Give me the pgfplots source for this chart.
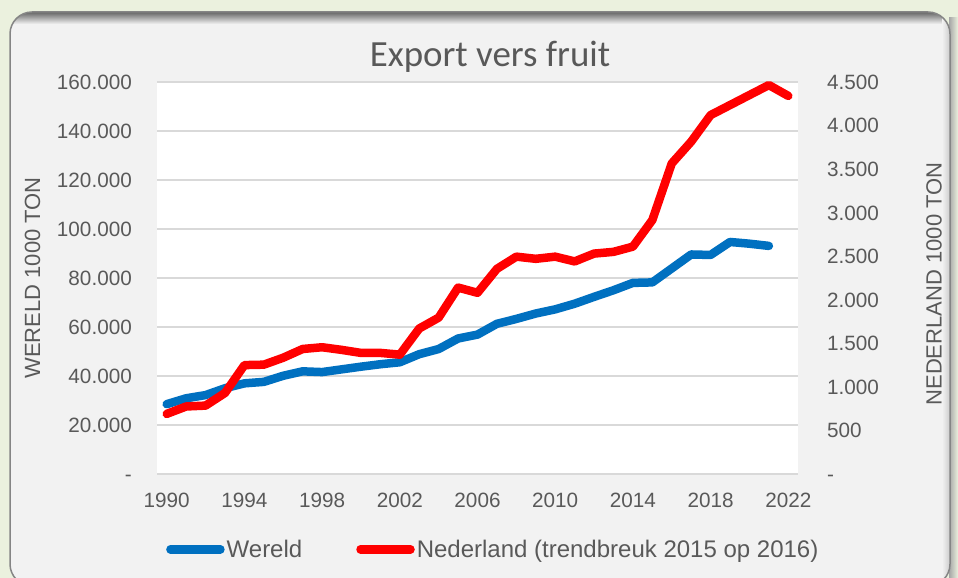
\documentclass[border=0pt]{standalone}
\usepackage{pgfplots}
\pgfplotsset{compat=1.18}
\usepackage{fontspec}
\setmainfont{Liberation Sans}
\newfontfamily\titlefont{Carlito}
\definecolor{bgg}{HTML}{EBF1DE}
\definecolor{panelc}{HTML}{F2F2F2}
\definecolor{borderc}{HTML}{858585}
\definecolor{txt}{HTML}{595959}
\definecolor{gridc}{HTML}{D9D9D9}
\definecolor{blueline}{HTML}{0070C0}
\definecolor{redline}{HTML}{FF0000}
\begin{document}
\begin{tikzpicture}[x=1bp,y=1bp]
\fill[bgg] (0,0) rectangle (958,578);
\useasboundingbox (0,0) rectangle (958,578);
\begin{scope}
\clip (0,0) rectangle (958,578);
\shade[left color=black!35, right color=bgg] (949,-20) rectangle (958,560);
\fill[panelc, rounded corners=22bp] (10,-8) rectangle (950,566);
\begin{scope}
\clip[rounded corners=22bp] (10,-8) rectangle (950,566);
\shade[top color=black!60, bottom color=panelc] (10,554) rectangle (950,566);
\shade[left color=panelc, right color=black!20] (942,-20) rectangle (950,566);
\end{scope}
\draw[borderc, line width=1.5bp, rounded corners=22bp] (10,-8) rectangle (950,566);
\end{scope}

\begin{axis}[
  at={(157bp,104bp)}, anchor=south west,
  width=641bp, height=392bp, scale only axis,
  xmin=1989.5, xmax=2022.5, ymin=0, ymax=160000,
  axis background/.style={fill=white},
  axis line style={draw=none},
  major tick length=0pt,
  ymajorgrids, grid style={draw=gridc, line width=1.5bp},
  scaled y ticks=false, scaled x ticks=false,
  xtick={1990,1994,1998,2002,2006,2010,2014,2018,2022},
  xticklabels={1990,1994,1998,2002,2006,2010,2014,2018,2022},
  ytick={0,20000,40000,60000,80000,100000,120000,140000,160000},
  yticklabels={{-}\hspace{12bp},20.000,40.000,60.000,80.000,100.000,120.000,140.000,160.000},
  ticklabel style={font=\fontsize{20.7bp}{24bp}\selectfont, text=txt, inner sep=0pt},
  xticklabel style={anchor=base, yshift=-34bp},
  yticklabel style={anchor=base east, xshift=-25bp, yshift=-7.4bp},
  ylabel={WERELD 1000 TON},
  ylabel style={at={(axis description cs:-0.1825,0.5)}, anchor=base, rotate=0, font=\fontsize{22bp}{26bp}\selectfont, text=txt, inner sep=0pt},
  clip=false,
]
\addplot[blueline, line width=8.5bp, line join=round, line cap=round] coordinates {
(1990,28500) (1991,30900) (1992,32200) (1993,35000) (1994,37000) (1995,37600)
(1996,40100) (1997,41900) (1998,41600) (1999,42700) (2000,43800) (2001,44800)
(2002,45600) (2003,48900) (2004,51000) (2005,55300) (2006,56900) (2007,61300)
(2008,63300) (2009,65500) (2010,67200) (2011,69500) (2012,72300) (2013,75000)
(2014,78000) (2015,78200) (2016,83900) (2017,89600) (2018,89400) (2019,94700)
(2020,94000) (2021,93100)
};
\end{axis}

\begin{axis}[
  at={(157bp,104bp)}, anchor=south west,
  width=641bp, height=392bp, scale only axis,
  xmin=1989.5, xmax=2022.5, ymin=0, ymax=4500,
  axis y line*=right, axis x line=none,
  axis line style={draw=none},
  major tick length=0pt,
  scaled y ticks=false,
  ytick={0,500,1000,1500,2000,2500,3000,3500,4000,4500},
  yticklabels={-,500,1.000,1.500,2.000,2.500,3.000,3.500,4.000,4.500},
  ticklabel style={font=\fontsize{20.7bp}{24bp}\selectfont, text=txt, inner sep=0pt},
  yticklabel style={anchor=base west, xshift=29bp, yshift=-7.4bp},
  ylabel={NEDERLAND 1000 TON},
  ylabel style={at={(axis description cs:1.2242,0.4847)}, anchor=base, rotate=0, font=\fontsize{22bp}{26bp}\selectfont, text=txt, inner sep=0pt},
  title={Export vers fruit},
  title style={at={(axis description cs:0.5195,1.023)}, anchor=base, font=\titlefont\fontsize{36.9bp}{40bp}\selectfont, text=txt, inner sep=0pt},
  legend columns=2,
  legend image code/.code={\draw[#1, line cap=round] (0bp,8.6bp) -- (50bp,8.6bp);},
  legend style={at={(axis description cs:0.014,-0.1939)}, anchor=west, draw=none, fill=none, inner sep=0pt, row sep=0pt,
    font=\fontsize{24bp}{28bp}\selectfont, text=txt, cells={anchor=base west}, nodes={inner sep=0pt},
    /tikz/every odd column/.append style={column sep=2bp},
    /tikz/every even column/.append style={column sep=54bp}},
  clip=false,
]
\addlegendimage{blueline, line width=8.5bp}
\addlegendentry{Wereld}
\addplot[redline, line width=8.5bp, line join=round, line cap=round] coordinates {
(1990,690) (1991,775) (1992,785) (1993,930) (1994,1250) (1995,1255) (1996,1335)
(1997,1435) (1998,1455) (1999,1425) (2000,1390) (2001,1390) (2002,1370) (2003,1670)
(2004,1795) (2005,2140) (2006,2080) (2007,2355) (2008,2495) (2009,2470) (2010,2495)
(2011,2440) (2012,2530) (2013,2550) (2014,2610) (2015,2915) (2016,3565) (2017,3815)
(2018,4120) (2019,4235) (2020,4350) (2021,4465) (2022,4340)
};
\addlegendentry{Nederland (trendbreuk 2015 op 2016)}
\end{axis}
\end{tikzpicture}
\end{document}
